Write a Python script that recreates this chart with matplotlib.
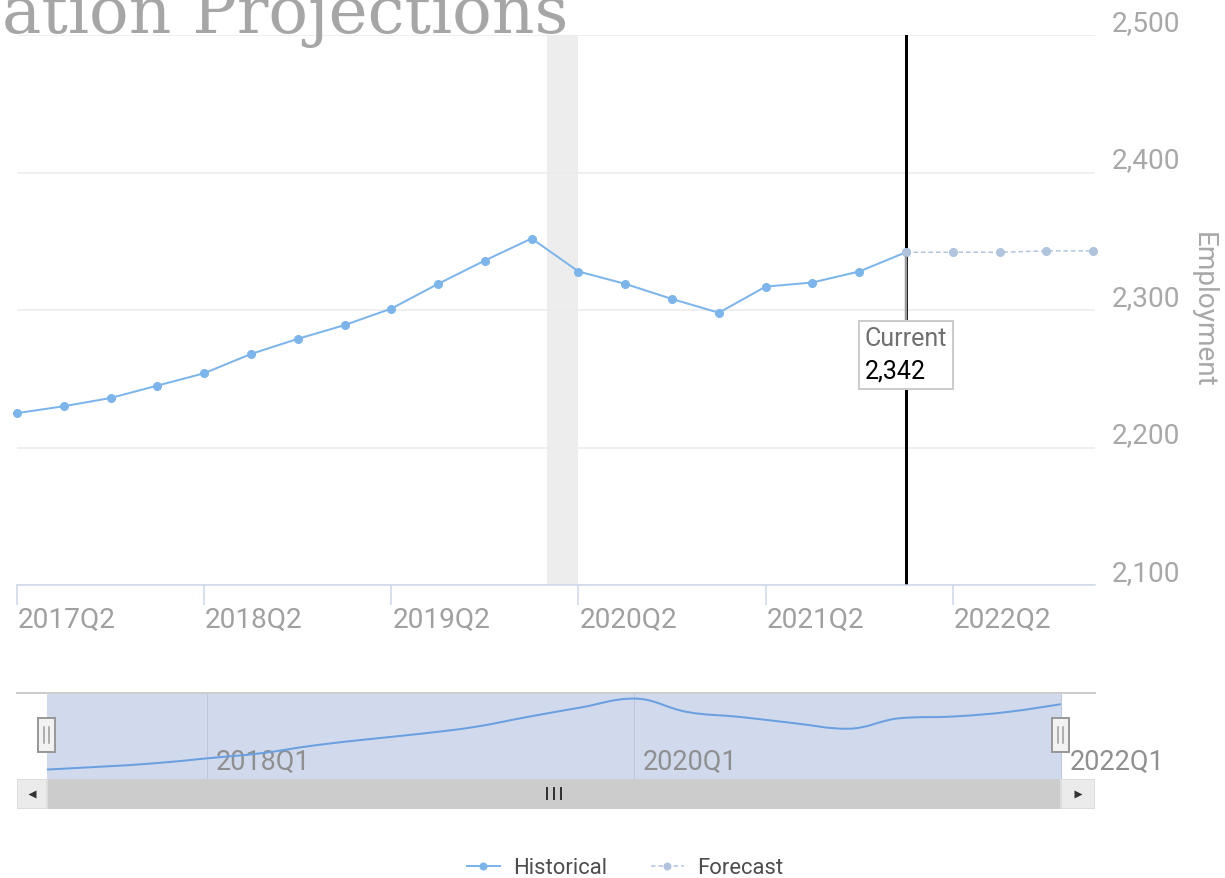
import numpy as np
import matplotlib.pyplot as plt
import matplotlib.transforms as mtransforms
from matplotlib.patches import Rectangle, PathPatch
from matplotlib.path import Path
from matplotlib.lines import Line2D
from matplotlib.offsetbox import TextArea, VPacker, AnnotationBbox

plt.rcParams['font.family'] = ['Roboto', 'DejaVu Sans']

# %% data
quarters = ["2017Q2", "2017Q3", "2017Q4", "2018Q1", "2018Q2", "2018Q3", "2018Q4",
            "2019Q1", "2019Q2", "2019Q3", "2019Q4", "2020Q1", "2020Q2", "2020Q3",
            "2020Q4", "2021Q1", "2021Q2", "2021Q3", "2021Q4", "2022Q1", "2022Q2",
            "2022Q3", "2022Q4", "2023Q1"]
historical = [2225, 2230, 2236, 2245, 2254, 2268, 2279, 2289, 2301, 2319, 2336,
              2352, 2328, 2319, 2308, 2298, 2317, 2320, 2328, 2342]
forecast = [2342, 2342, 2342, 2343, 2343]
current_quarter = "2022Q1"
current_value = 2342
recession = ("2020-02", "2020-04")
y_ticks = [2100, 2200, 2300, 2400, 2500]
main_ticks = ["2017Q2", "2018Q2", "2019Q2", "2020Q2", "2021Q2", "2022Q2"]
nav_ticks = ["2018Q1", "2020Q1", "2022Q1"]

W, H = 1225, 878
BLUE = '#7cb5ec'
FC = '#b0c4de'
GRAY = '#a0a0a0'


def month_to_idx(s):
    y, m = int(s[:4]), int(s[5:7])
    y0, q0 = int(quarters[0][:4]), int(quarters[0][-1])
    return ((y * 12 + m - 1) - (y0 * 12 + (q0 - 1) * 3)) / 3


def shift(artist, dx, dy):
    artist.set_transform(artist.get_transform() +
                         mtransforms.ScaledTranslation(dx / 72, dy / 72, fig.dpi_scale_trans))


def spline_path(xs, ys, smoothing=1.5):
    # highcharts style spline through the points
    n = len(xs)
    left, right = [], []
    for i in range(n):
        if i == 0 or i == n - 1:
            left.append((xs[i], ys[i]))
            right.append((xs[i], ys[i]))
            continue
        d = smoothing + 1
        lx = (smoothing * xs[i] + xs[i - 1]) / d
        ly = (smoothing * ys[i] + ys[i - 1]) / d
        rx = (smoothing * xs[i] + xs[i + 1]) / d
        ry = (smoothing * ys[i] + ys[i + 1]) / d
        corr = (ry - ly) * (rx - xs[i]) / (rx - lx) + ys[i] - ry
        ly += corr
        ry += corr
        hi, lo = max(ys[i - 1], ys[i]), min(ys[i - 1], ys[i])
        if ly > hi:
            ly = hi; ry = 2 * ys[i] - ly
        elif ly < lo:
            ly = lo; ry = 2 * ys[i] - ly
        hi, lo = max(ys[i + 1], ys[i]), min(ys[i + 1], ys[i])
        if ry > hi:
            ry = hi; ly = 2 * ys[i] - ry
        elif ry < lo:
            ry = lo; ly = 2 * ys[i] - ry
        left.append((lx, ly))
        right.append((rx, ry))
    verts = [(xs[0], ys[0])]
    codes = [Path.MOVETO]
    for i in range(1, n):
        verts += [right[i - 1], left[i], (xs[i], ys[i])]
        codes += [Path.CURVE4] * 3
    return Path(verts, codes)


fig = plt.figure(figsize=(W / 72, H / 72), dpi=72)

# %% main chart
ax = fig.add_axes([17 / W, (H - 585) / H, 1078 / W, 550 / H])
x_hist = np.arange(len(historical))
cur = quarters.index(current_quarter)
x_fc = np.arange(cur, cur + len(forecast))

ax.axvspan(month_to_idx(recession[0]), month_to_idx(recession[1]), color='#ededed', lw=0, zorder=0)
ax.axvline(cur, color='black', lw=3, zorder=2)
ax.plot(x_hist, historical, color=BLUE, lw=2, marker='o', ms=8, clip_on=False, zorder=3)
ax.plot(x_fc, forecast, color=FC, lw=1.5, ls=(0, (3, 2)), marker='o', ms=8, clip_on=False, zorder=4)

ax.set_xlim(0, 23.04)
ax.set_ylim(y_ticks[0], y_ticks[-1])
for s in ['top', 'left', 'right']:
    ax.spines[s].set_visible(False)
ax.spines['bottom'].set_color('#ccd6eb')
ax.spines['bottom'].set_linewidth(1.5)
ax.yaxis.grid(True, color='#ebebeb', lw=1.5)
ax.set_axisbelow(True)

ax.set_xticks([quarters.index(q) for q in main_ticks])
ax.set_xticklabels(main_ticks)
ax.tick_params(axis='x', length=20, width=1.5, color='#ccd6eb', labelsize=28,
               labelcolor=GRAY, pad=2)
for lbl in ax.get_xticklabels():
    lbl.set_ha('left')
    shift(lbl, 1, 0)

ax.yaxis.tick_right()
ax.set_yticks(y_ticks)
ax.set_yticklabels([f"{v:,}" for v in y_ticks])
ax.tick_params(axis='y', length=0, pad=17, labelsize=28, labelcolor='#a8a8a8')
for lbl in ax.get_yticklabels():
    lbl.set_va('baseline')
    shift(lbl, 0, 4)
ax.yaxis.set_label_position('right')
ax.set_ylabel("Employment", rotation=270, fontsize=28, color='#a8a8a8', labelpad=36)

# tooltip
tip = VPacker(children=[TextArea("Current", textprops=dict(color='#707070', fontsize=25)),
                        TextArea(f"{current_value:,}", textprops=dict(color='black', fontsize=25))],
              align='left', pad=0, sep=8)
ab = AnnotationBbox(tip, (cur, current_value), xybox=(0, -103), xycoords='data',
                    boxcoords='offset points', box_alignment=(0.5, 0.5), pad=0.6,
                    bboxprops=dict(facecolor='white', edgecolor='#cccccc', lw=2),
                    arrowprops=dict(arrowstyle='-', color='#9a9a9a', lw=2.5, shrinkA=0, shrinkB=5),
                    zorder=6)
ax.add_artist(ab)

# %% navigator
nav = fig.add_axes([17 / W, (H - 779) / H, 1078 / W, 86 / H])
nav.set_xlim(-0.56, 19.64)
nav.set_ylim(2208, 2362)
for s in ['bottom', 'left', 'right']:
    nav.spines[s].set_visible(False)
nav.spines['top'].set_color('#cccccc')
nav.spines['top'].set_linewidth(2)
nav.axvspan(0, len(historical) - 1, color=(102 / 255, 133 / 255, 194 / 255, 0.3), lw=0, zorder=0)
nav.add_patch(PathPatch(spline_path(x_hist, historical), fill=False, edgecolor='#6a9fe0', lw=2, zorder=3))
nav.set_yticks([])
nav.set_xticks([quarters.index(q) for q in nav_ticks])
nav.set_xticklabels(nav_ticks)
nav.tick_params(axis='x', length=0, pad=-30, labelsize=27, labelcolor='#8f8f8f')
nav.xaxis.grid(True, color='#bcc6dc', lw=1)
for lbl in nav.get_xticklabels():
    lbl.set_ha('left')
    shift(lbl, 9, 0)

# %% scrollbar
sb = fig.add_axes([17 / W, (H - 809) / H, 1078 / W, 30 / H])
sb.set_xlim(nav.get_xlim())
sb.set_ylim(0, 1)
sb.axis('off')
x0, x1 = sb.get_xlim()
last = len(historical) - 1
sb.add_patch(Rectangle((x0, 0), x1 - x0, 1, facecolor='#f2f2f2', edgecolor='#e0e0e0', lw=2))
sb.add_patch(Rectangle((0, 0), last, 1, facecolor='#cccccc', edgecolor='#cccccc', lw=0))
sb.add_patch(Rectangle((x0, 0), -x0, 1, facecolor='#ebebeb', edgecolor='#dddddd', lw=2))
sb.add_patch(Rectangle((last, 0), x1 - last, 1, facecolor='#ebebeb', edgecolor='#dddddd', lw=2))
sb.plot([x0 / 2], [0.5], marker='<', ms=8, color='#333333', mec='none')
sb.plot([(last + x1) / 2], [0.5], marker='>', ms=8, color='#333333', mec='none')

# %% overlay for title and navigator handles
ov = fig.add_axes([0, 0, 1, 1], zorder=5)
ov.set_xlim(0, W)
ov.set_ylim(H, 0)
ov.axis('off')
ov.text(568, 33, "ation Projections", ha='right', va='baseline', fontsize=66,
        family='DejaVu Serif', color='#a6a6a6')

fig.canvas.draw()
to_px = ov.transData.inverted()
for xi in (0, last):
    px, py = to_px.transform(nav.transData.transform((xi, 2208)))
    ov.add_patch(Rectangle((px - 8.5, 718), 17, 34, facecolor='#f2f2f2', edgecolor='#999999', lw=2, zorder=7))
    for dx in (-2.5, 2.5):
        ov.plot([px + dx, px + dx], [727, 743], color='#999999', lw=1.5, zorder=8)
gx, _ = to_px.transform(sb.transData.transform((last / 2, 0.5)))
for dx in (-7, 0, 7):
    ov.plot([gx + dx, gx + dx], [788, 799], color='#333333', lw=2, zorder=8)

# %% legend
handles = [Line2D([], [], color=BLUE, lw=2, marker='o', ms=7),
           Line2D([], [], color=FC, lw=1.5, ls=(0, (3, 2)), marker='o', ms=7)]
fig.legend(handles, ["Historical", "Forecast"], loc='center', bbox_to_anchor=(625 / W, 1 - 868 / H),
           ncol=2, frameon=False, fontsize=22, handlelength=1.5, handletextpad=0.6,
           columnspacing=2.0, labelcolor='#4d4d4d')

fig.savefig("out.png", dpi=72)
